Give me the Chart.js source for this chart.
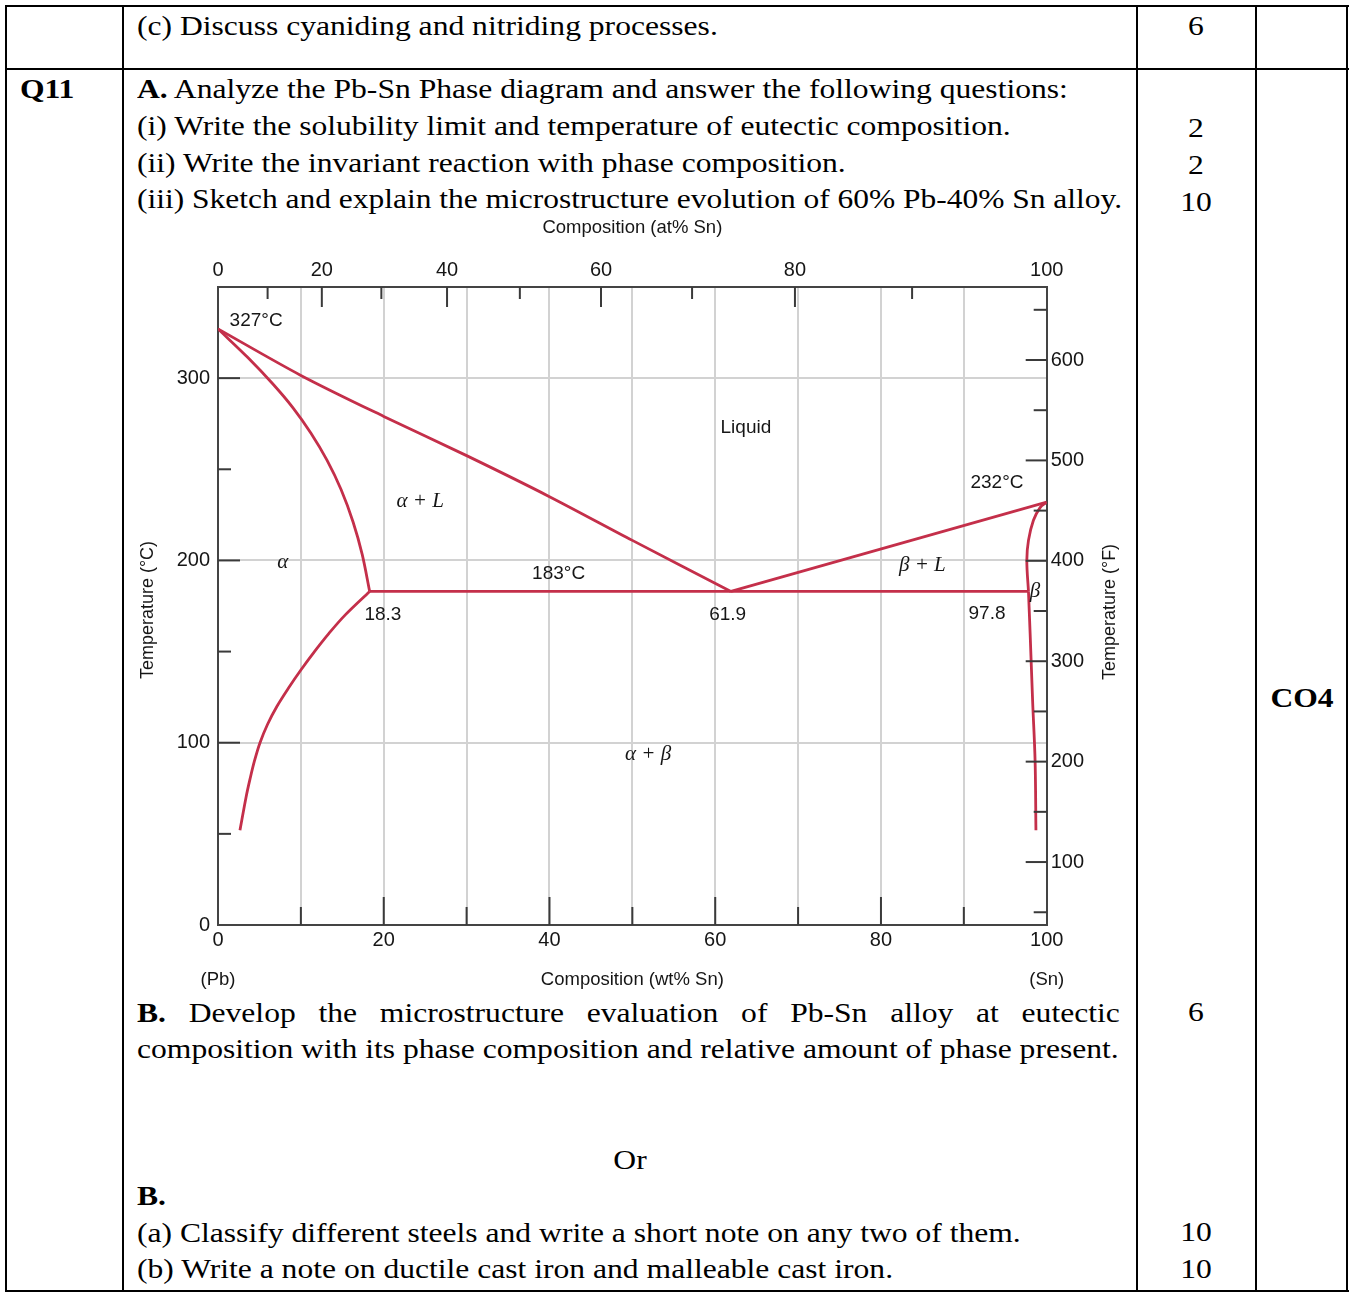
<!DOCTYPE html>
<html><head><meta charset="utf-8">
<script src="https://cdn.jsdelivr.net/npm/chart.js@4.4.1/dist/chart.umd.min.js"></script>
<style>
html,body{margin:0;padding:0;background:#fff;}
body{width:1349px;height:1292px;position:relative;overflow:hidden;}
.ln{position:absolute;background:#000;}
.t{position:absolute;font-family:'Liberation Serif','Times New Roman',serif;font-size:27px;line-height:27px;white-space:nowrap;transform:scaleX(1.17);transform-origin:0 0;color:#000;}
.c{transform-origin:50% 0;text-align:center;width:100px;}
.j{text-align:justify;text-align-last:justify;white-space:normal;}
#cv{position:absolute;left:130px;top:210px;}
</style></head><body>
<!-- table rules -->
<div class="ln" style="left:5px;top:5px;width:1344px;height:2px"></div>
<div class="ln" style="left:5px;top:68px;width:1344px;height:2px"></div>
<div class="ln" style="left:5px;top:1290px;width:1344px;height:2px"></div>
<div class="ln" style="left:5px;top:5px;width:2px;height:1287px"></div>
<div class="ln" style="left:122px;top:5px;width:2px;height:1287px"></div>
<div class="ln" style="left:1136px;top:5px;width:2px;height:1287px"></div>
<div class="ln" style="left:1255px;top:5px;width:2px;height:1287px"></div>
<div class="ln" style="left:1346px;top:5px;width:2px;height:1287px"></div>

<div class="t" style="left:137px;top:13px">(c) Discuss cyaniding and nitriding processes.</div>
<div class="t c" style="left:1146px;top:13px">6</div>

<div class="t" style="left:20px;top:76px"><b>Q11</b></div>
<div class="t" style="left:137px;top:76px"><b>A.</b> Analyze the Pb-Sn Phase diagram and answer the following questions:</div>
<div class="t" style="left:137px;top:113px">(i) Write the solubility limit and temperature of eutectic composition.</div>
<div class="t" style="left:137px;top:150px">(ii) Write the invariant reaction with phase composition.</div>
<div class="t" style="left:137px;top:186px;transform:scaleX(1.165)">(iii) Sketch and explain the microstructure evolution of 60% Pb-40% Sn alloy.</div>
<div class="t c" style="left:1146px;top:115px">2</div>
<div class="t c" style="left:1146px;top:152px">2</div>
<div class="t c" style="left:1146px;top:189px">10</div>

<div class="t c" style="left:1252px;top:685px"><b>CO4</b></div>

<div class="t j" style="left:137px;top:1000px;width:840px"><b>B.</b> Develop the microstructure evaluation of Pb-Sn alloy at eutectic</div>
<div class="t" style="left:137px;top:1036px">composition with its phase composition and relative amount of phase present.</div>
<div class="t c" style="left:1146px;top:999px">6</div>
<div class="t c" style="left:580px;top:1147px">Or</div>
<div class="t" style="left:137px;top:1183px"><b>B.</b></div>
<div class="t" style="left:137px;top:1220px">(a) Classify different steels and write a short note on any two of them.</div>
<div class="t" style="left:137px;top:1256px">(b) Write a note on ductile cast iron and malleable cast iron.</div>
<div class="t c" style="left:1146px;top:1219px">10</div>
<div class="t c" style="left:1146px;top:1256px">10</div>

<canvas id="cv" width="1005" height="785"></canvas>
<script>
// ---- axis ticks / labels ----
const wtTicks = [0,10,20,30,40,50,60,70,80,90,100];
const wtLabels = [0,20,40,60,80,100];
const atTicks = [0,10,20,30,40,50,60,70,80,90,100];
const atLabels = [0,20,40,60,80,100];
const tempTicks = [0,50,100,150,200,250,300,350];
const tempLabels = [0,100,200,300];
const fTicks = [50,100,150,200,250,300,350,400,450,500,550,600,650];
const fLabels = [100,200,300,400,500,600];

// ---- phase boundaries: [wt% Sn, °C] ----
const liquidusLeft = [[0,327],[10,301.5],[20,279],[30,257.5],[40,235],[50,211],[61.9,183]];
const solidusAlpha = [[0,327],[3.6,311.3],[6.6,296.9],[9.05,283.7],[11.2,269.9],[13.15,255],[14.85,238.9],[16.3,221.1],[17.4,203.3],[18.3,183]];
const solvusAlpha = [[18.3,183],[15.33,170],[13.39,160],[11.64,150],[10.02,140],[8.51,130],[7.12,120],[5.97,110],[5.07,100],[4.4,90],[3.86,80],[3.38,70],[2.65,52]];
const eutecticLine = [[18.3,183],[97.8,183]];
const liquidusRight = [[61.9,183],[100,232]];
const solidusBeta = [[97.8,183],[97.6,200],[97.8,211],[98.4,222],[99.2,229],[100,232]];
const solvusBeta = [[97.8,183],[98.0,160],[98.3,123],[98.6,90],[98.7,52]];

// ---- annotations ----
const noteTexts = ['327°C','232°C','183°C','18.3','61.9','97.8','Liquid'];
const noteWt    = [4.6, 94.0, 41.1, 19.9, 61.5, 92.8, 63.7];
const noteTemp  = [331.5, 242.5, 192.5, 170, 170, 170.6, 272.6];
const phaseTexts = ['α + L','α','β + L','β','α + β'];
const phaseWt    = [24.4, 7.8, 85.0, 98.6, 51.9];
const phaseTemp  = [232.6, 199, 197.5, 183.2, 93.3];

const PB = 207.2, SN = 118.71;
function atToWt(a){ return a===0?0:100*a*SN/(a*SN+(100-a)*PB); }
const pts = arr => arr.map(p=>({x:p[0],y:p[1]}));

const RED = '#c42f4a';
const mk = (data,tension) => ({data:pts(data),showLine:true,borderColor:RED,borderWidth:2.8,pointRadius:0,tension:tension,fill:false,xAxisID:'x',yAxisID:'y'});

const SANS = "'Liberation Sans', Arial, sans-serif";
const tickFont = {family:SANS,size:20};

const inward = {
  id:'inward',
  afterDatasetsDraw(chart){
    const {ctx, chartArea:a, scales} = chart;
    ctx.save(); ctx.strokeStyle='#3a3a3a'; ctx.lineWidth=2;
    const seg=(x1,y1,x2,y2)=>{ctx.beginPath();ctx.moveTo(x1,y1);ctx.lineTo(x2,y2);ctx.stroke();};
    wtTicks.forEach(v=>{ if(v<=0||v>=100) return; const px=scales.x.getPixelForValue(v); seg(px,a.bottom,px,a.bottom-(wtLabels.includes(v)?28:18)); });
    atTicks.forEach(v=>{ if(v<=0||v>=100) return; const px=scales.xTop.getPixelForValue(atToWt(v)); seg(px,a.top,px,a.top+(atLabels.includes(v)?20:12)); });
    tempTicks.forEach(v=>{ if(v<=0||v>=350) return; const py=scales.y.getPixelForValue(v); seg(a.left,py,a.left+(tempLabels.includes(v)?22:13),py); });
    fTicks.forEach(v=>{ const py=scales.y2.getPixelForValue(v); seg(a.right,py,a.right-(fLabels.includes(v)?21:13),py); });
    ctx.restore();
  }
};

const texts = {
  id:'texts',
  afterDraw(chart){
    const {ctx, chartArea:a, scales} = chart;
    const X = v=>scales.x.getPixelForValue(v), Y = v=>scales.y.getPixelForValue(v);
    ctx.save();
    ctx.fillStyle='#161616'; ctx.textAlign='center'; ctx.textBaseline='middle';
    const cx=(a.left+a.right)/2, cy=(a.top+a.bottom)/2;
    ctx.font="18.5px "+SANS;
    ctx.fillText('Composition (at% Sn)', cx, a.top-59);
    ctx.fillText('Composition (wt% Sn)', cx, a.bottom+55);
    ctx.fillText('(Pb)', a.left, a.bottom+55);
    ctx.fillText('(Sn)', a.right, a.bottom+55);
    ctx.font="18px "+SANS;
    ctx.save(); ctx.translate(a.left-70, cy+4); ctx.rotate(-Math.PI/2); ctx.fillText('Temperature (°C)',0,0); ctx.restore();
    ctx.save(); ctx.translate(a.right+63, cy+6); ctx.rotate(-Math.PI/2); ctx.fillText('Temperature (°F)',0,0); ctx.restore();
    ctx.font="19px "+SANS;
    noteTexts.forEach((t,i)=>ctx.fillText(t, X(noteWt[i]), Y(noteTemp[i])));
    ctx.font="italic 21px 'Liberation Serif', serif";
    phaseTexts.forEach((t,i)=>ctx.fillText(t, X(phaseWt[i]), Y(phaseTemp[i])));
    ctx.restore();
  }
};

const gridGray = '#d2d2d2';
new Chart(document.getElementById('cv'), {
  type:'scatter',
  data:{ datasets:[
    mk(liquidusLeft,0.3), mk(solidusAlpha,0.35), mk(solvusAlpha,0.35), mk(eutecticLine,0),
    mk(liquidusRight,0), mk(solidusBeta,0.35), mk(solvusBeta,0.35)
  ]},
  options:{
    responsive:false, animation:false, devicePixelRatio:1,
    layout:{padding:0},
    plugins:{legend:{display:false}, tooltip:{enabled:false}},
    scales:{
      x:{type:'linear',position:'bottom',min:0,max:100,
        afterBuildTicks:s=>{s.ticks=wtTicks.map(v=>({value:v}));},
        afterFit:s=>{s.height=70;},
        ticks:{autoSkip:false,maxRotation:0,minRotation:0,padding:3,font:tickFont,color:'#161616',
          callback:v=>wtLabels.includes(v)?String(v):''},
        grid:{drawTicks:false,lineWidth:2,color:c=>(c.tick&&c.tick.value>0&&c.tick.value<100)?gridGray:'rgba(0,0,0,0)'},
        border:{display:true,color:'#444',width:2}},
      xTop:{type:'linear',position:'top',min:0,max:100,
        afterBuildTicks:s=>{s.ticks=atLabels.map(a=>({value:atToWt(a)}));},
        afterFit:s=>{s.height=77;},
        ticks:{autoSkip:false,maxRotation:0,minRotation:0,padding:5,font:tickFont,color:'#161616',
          callback:(v,i)=>String(atLabels[i])},
        grid:{display:false,drawTicks:false},
        border:{display:true,color:'#444',width:2}},
      y:{type:'linear',position:'left',min:0,max:350,
        afterBuildTicks:s=>{s.ticks=tempTicks.map(v=>({value:v}));},
        afterFit:s=>{s.width=88;},
        ticks:{autoSkip:false,padding:8,font:tickFont,color:'#161616',
          callback:v=>tempLabels.includes(v)?String(v):''},
        grid:{drawTicks:false,lineWidth:2,color:c=>(c.tick&&[100,200,300].includes(c.tick.value))?gridGray:'rgba(0,0,0,0)'},
        border:{display:true,color:'#444',width:2}},
      y2:{type:'linear',position:'right',min:37.3,max:672.7,
        afterBuildTicks:s=>{s.ticks=fTicks.map(v=>({value:v}));},
        afterFit:s=>{s.width=88.3;},
        ticks:{autoSkip:false,padding:4,font:tickFont,color:'#161616',
          callback:v=>fLabels.includes(v)?String(v):''},
        grid:{display:false,drawTicks:false},
        border:{display:true,color:'#444',width:2}}
    }
  },
  plugins:[inward,texts]
});
</script>
</body></html>
